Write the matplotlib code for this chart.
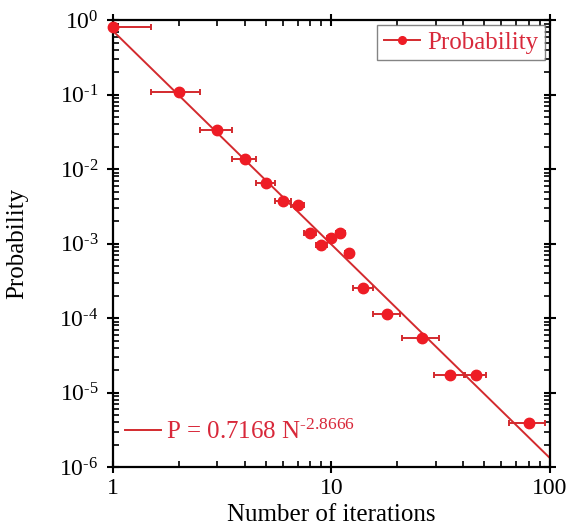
import matplotlib.pyplot as plt
from matplotlib.ticker import LogLocator, NullFormatter, FixedLocator
import numpy as np

# data
iterations = [1, 2, 3, 4, 5, 6, 7, 8, 9, 10, 11, 12, 14, 18, 26, 35, 46, 80]
probability = [0.81, 0.109, 0.034, 0.0137, 0.0066, 0.0037, 0.0033, 0.00137,
               0.00095, 0.00118, 0.0014, 0.00076, 2.55e-4, 1.12e-4, 5.4e-5,
               1.73e-5, 1.73e-5, 3.86e-6]
iter_err = [0.5, 0.5, 0.5, 0.5, 0.5, 0.5, 0.5, 0.5, 0.5, 0.5, 0.5, 0.5,
            1.5, 2.5, 5, 5.5, 5, 15]
fit_a = 0.7168
fit_b = -2.8666
y_ticks = [1, 1e-1, 1e-2, 1e-3, 1e-4, 1e-5, 1e-6]
y_ticklabels = [r"$10^{0}$", r"$10^{\text{-}1}$", r"$10^{\text{-}2}$", r"$10^{\text{-}3}$",
                r"$10^{\text{-}4}$", r"$10^{\text{-}5}$", r"$10^{\text{-}6}$"]

plt.rcParams["font.family"] = "Liberation Serif"
plt.rcParams["mathtext.fontset"] = "custom"
plt.rcParams["mathtext.rm"] = "Liberation Serif"
plt.rcParams["mathtext.it"] = "Liberation Serif"
plt.rcParams["mathtext.default"] = "rm"

red = "#ee1c25"
dark_red = "#d32a2e"

fig = plt.figure(figsize=(5.68, 5.32), dpi=100)
ax = fig.add_axes([0.199, 0.122, 0.769, 0.840])

n = np.logspace(0, 2, 200)
fit_line, = ax.plot(n, fit_a * n ** fit_b, color=dark_red, lw=1.4)
ax.errorbar(iterations, probability, xerr=iter_err, fmt="none",
            ecolor=dark_red, elinewidth=1.4, capsize=2.5, capthick=1.4)
ax.plot(iterations, probability, "o", color=red, ms=7.5, clip_on=False, zorder=4)
data_handle, = ax.plot([], [], "-o", color=dark_red, mfc=red, mec=red, ms=5.5, lw=1.4)

ax.set_xscale("log")
ax.set_yscale("log")
ax.set_xlim(1, 100)
ax.set_ylim(1e-6, 1)
ax.yaxis.set_major_locator(FixedLocator(y_ticks))
ax.set_yticklabels(y_ticklabels)
ax.yaxis.set_minor_locator(LogLocator(base=10, subs=np.arange(2, 10), numticks=20))
ax.yaxis.set_minor_formatter(NullFormatter())
ax.xaxis.set_minor_formatter(NullFormatter())
ax.set_xticks([1, 10, 100])
ax.set_xticklabels(["1", "10", "100"])

for s in ax.spines.values():
    s.set_linewidth(1.6)
ax.tick_params(which="major", direction="inout", length=9, width=1.5,
               labelsize=17, top=True, right=True, pad=3)
ax.tick_params(axis="y", which="major", pad=6)
ax.tick_params(which="minor", direction="in", length=4, width=1.2,
               top=True, right=True)

ax.set_xlabel("Number of iterations", fontsize=18, labelpad=4)
ax.set_ylabel("Probability", fontsize=18, labelpad=22)

leg = ax.legend([data_handle], ["Probability"], loc="upper right", fontsize=18,
                frameon=True, fancybox=False, edgecolor="#666666",
                borderaxespad=0.2, borderpad=0.25, handlelength=1.45,
                handletextpad=0.3, labelcolor="#d8283a")
leg.get_frame().set_linewidth(1.0)
ax.add_artist(leg)
ax.legend([fit_line], [r"P = 0.7168 N$^{\text{-2.8666}}$"], loc="lower left",
          fontsize=18, frameon=False, labelcolor="#d8283a", handlelength=1.45,
          handletextpad=0.2, bbox_to_anchor=(-0.025, 0.002))

fig.savefig("out.png", dpi=100)
